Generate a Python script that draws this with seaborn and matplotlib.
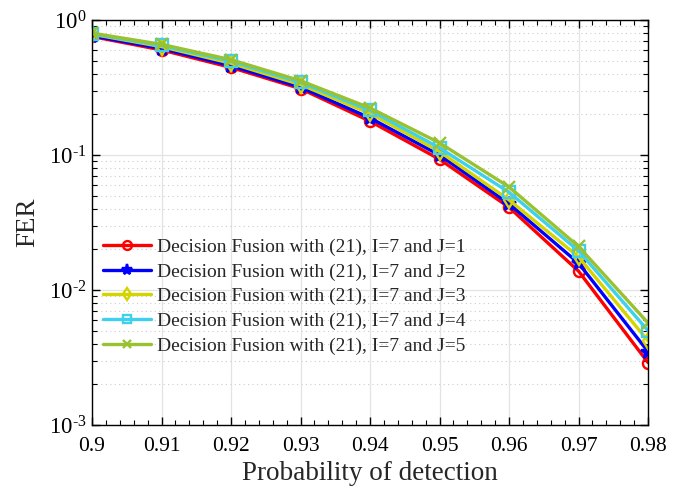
import numpy as np
import pandas as pd
import matplotlib
matplotlib.use('Agg')
import matplotlib.pyplot as plt
import matplotlib.ticker as mticker
import seaborn as sns

# data
pd_vals = [0.90, 0.91, 0.92, 0.93, 0.94, 0.95, 0.96, 0.97, 0.98]
fer_j1 = [0.755, 0.600, 0.445, 0.310, 0.178, 0.093, 0.041, 0.0138, 0.0029]
fer_j2 = [0.765, 0.615, 0.458, 0.318, 0.188, 0.100, 0.0435, 0.0158, 0.0035]
fer_j3 = [0.785, 0.635, 0.478, 0.332, 0.203, 0.106, 0.0465, 0.0176, 0.0042]
fer_j4 = [0.790, 0.648, 0.495, 0.345, 0.214, 0.113, 0.053, 0.0195, 0.0050]
fer_j5 = [0.800, 0.660, 0.508, 0.355, 0.223, 0.123, 0.058, 0.0210, 0.0057]
labels = ['Decision Fusion with (21), I=7 and J=%d' % j for j in range(1, 6)]

series = [fer_j1, fer_j2, fer_j3, fer_j4, fer_j5]
colors = ['#ff0000', '#0000ff', '#d4d400', '#3fd0ee', '#99c130']
markers = ['o', '*', 'd', 's', 'x']

sns.set_style('ticks')
plt.rcParams['font.family'] = ['Liberation Serif', 'DejaVu Serif']
plt.rcParams['mathtext.fontset'] = 'custom'
plt.rcParams['mathtext.rm'] = 'Liberation Serif'

f = plt.figure(figsize=(6.75, 4.93), dpi=100)
ax = f.add_axes([0.1363, 0.138, 0.8237, 0.8214])

for vals, lab, c, m in zip(series, labels, colors, markers):
    df = pd.DataFrame({'pd': pd_vals, 'fer': vals})
    filled = m in ('*', 'x')
    sns.lineplot(data=df, x='pd', y='fer', ax=ax, color=c, lw=2.4,
                 marker=m, ms=10 if m == '*' else 8,
                 mfc=c if filled else 'none', mec=c, mew=1.7,
                 label=lab)

ax.set_yscale('log')
ax.set_ylim(1e-3, 1)
ax.set_xlim(0.9, 0.98)
ax.xaxis.set_major_locator(mticker.MultipleLocator(0.01))
ax.xaxis.set_minor_locator(mticker.MultipleLocator(0.002))
ax.xaxis.set_major_formatter(mticker.FuncFormatter(lambda v, p: ('%.2f' % v).rstrip('0')))
ax.yaxis.set_major_locator(mticker.LogLocator(base=10))
ax.yaxis.set_minor_locator(mticker.LogLocator(base=10, subs=np.arange(2, 10)))
ax.yaxis.set_minor_formatter(mticker.NullFormatter())


def log_fmt(v, p):
    e = int(round(np.log10(v)))
    if e < 0:
        return '$\\mathdefault{10^{\\text{-}%d}}$' % (-e)
    return '$\\mathdefault{10^{%d}}$' % e


ax.yaxis.set_major_formatter(mticker.FuncFormatter(log_fmt))

ax.grid(True, which='major', color='#e3e3e3', lw=0.9, ls='-')
ax.grid(True, which='minor', axis='y', color='#cccccc', lw=0.8, ls=(0, (1, 3)))
ax.set_axisbelow(True)

ax.tick_params(which='both', direction='in', top=True, right=True, colors='black')
ax.tick_params(which='major', length=6, width=1, labelsize=15.5)
ax.tick_params(axis='x', which='major', pad=9)
ax.tick_params(axis='y', which='major', pad=4, labelsize=16.5)
ax.tick_params(which='minor', length=3.5, width=0.8)
for s in ax.spines.values():
    s.set_color('black')
    s.set_linewidth(1.0)

ax.set_xlabel('Probability of detection', fontsize=19.5, labelpad=3)
ax.set_ylabel('FER', fontsize=19.5, labelpad=6)

ax.legend(loc='upper left', bbox_to_anchor=(-0.002, 0.49), frameon=False,
          fontsize=14, handlelength=2.5, handletextpad=0.3, labelspacing=0.36,
          borderaxespad=0.2, markerscale=0.8)

f.savefig('out.png', dpi=100)
